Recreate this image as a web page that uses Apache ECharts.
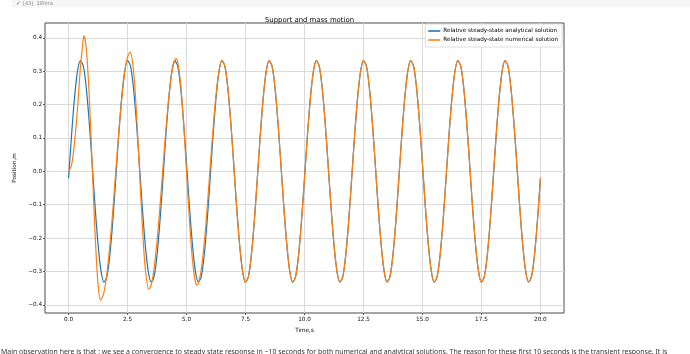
<!DOCTYPE html>
<html><head><meta charset="utf-8">
<script src="https://cdn.jsdelivr.net/npm/echarts@6/dist/echarts.min.js"></script>
<style>html,body{margin:0;padding:0;background:#fff;}#c{width:690px;height:354px;}</style>
</head><body><div id="c"></div>
<script>
const chartTitle = 'Support and mass motion';
const seriesNames = ['Relative steady-state analytical solution', 'Relative steady-state numerical solution'];
const xAxisName = 'Time,s';
const yAxisName = 'Position,m';
const xTicks = [0, 2.5, 5, 7.5, 10, 12.5, 15, 17.5, 20];
const yTicks = [-0.4, -0.3, -0.2, -0.1, 0, 0.1, 0.2, 0.3, 0.4];
const timeStep = 0.125; // sampling step of the time grid (s)

// analytical steady-state response, t = 0 ... 20 s every 0.125 s
const analytical = [
  -0.021, 0.108, 0.220, 0.299, 0.332, 0.315, 0.250, 0.147, 0.021, -0.108, -0.220, -0.299, -0.332, -0.315, -0.250, -0.147,
  -0.021, 0.108, 0.220, 0.299, 0.332, 0.315, 0.250, 0.147, 0.021, -0.108, -0.220, -0.299, -0.332, -0.315, -0.250, -0.147,
  -0.021, 0.108, 0.220, 0.299, 0.332, 0.315, 0.250, 0.147, 0.021, -0.108, -0.220, -0.299, -0.332, -0.315, -0.250, -0.147,
  -0.021, 0.108, 0.220, 0.299, 0.332, 0.315, 0.250, 0.147, 0.021, -0.108, -0.220, -0.299, -0.332, -0.315, -0.250, -0.147,
  -0.021, 0.108, 0.220, 0.299, 0.332, 0.315, 0.250, 0.147, 0.021, -0.108, -0.220, -0.299, -0.332, -0.315, -0.250, -0.147,
  -0.021, 0.108, 0.220, 0.299, 0.332, 0.315, 0.250, 0.147, 0.021, -0.108, -0.220, -0.299, -0.332, -0.315, -0.250, -0.147,
  -0.021, 0.108, 0.220, 0.299, 0.332, 0.315, 0.250, 0.147, 0.021, -0.108, -0.220, -0.299, -0.332, -0.315, -0.250, -0.147,
  -0.021, 0.108, 0.220, 0.299, 0.332, 0.315, 0.250, 0.147, 0.021, -0.108, -0.220, -0.299, -0.332, -0.315, -0.250, -0.147,
  -0.021, 0.108, 0.220, 0.299, 0.332, 0.315, 0.250, 0.147, 0.021, -0.108, -0.220, -0.299, -0.332, -0.315, -0.250, -0.147,
  -0.021, 0.108, 0.220, 0.299, 0.332, 0.315, 0.250, 0.147, 0.021, -0.108, -0.220, -0.299, -0.332, -0.315, -0.250, -0.147,
  -0.021
];

// numerical solution: transient part (irregular time points)
const numTransientTime = [
  0, 0.125, 0.25, 0.375, 0.5, 0.625, 0.65, 0.75, 0.875, 1.0, 1.125, 1.25, 1.36,
  1.5, 1.625, 1.75, 1.875, 2.0, 2.125, 2.25, 2.375, 2.5, 2.61,
  2.75, 2.875, 3.0, 3.125, 3.25, 3.4,
  3.5, 3.625, 3.75, 3.875, 4.0, 4.125, 4.25, 4.375, 4.5, 4.56,
  4.625, 4.75, 4.875, 5.0, 5.125, 5.25, 5.375, 5.44,
  5.5, 5.625, 5.75, 5.875, 6.0, 6.125, 6.25, 6.375, 6.5
];
const numTransientValue = [
  0.000, 0.018, 0.085, 0.185, 0.310, 0.398, 0.406, 0.368, 0.226, 0.019, -0.190, -0.340, -0.386,
  -0.363, -0.306, -0.221, -0.116, 0.000, 0.114, 0.215, 0.294, 0.343, 0.357,
  0.303, 0.177, 0.009, -0.161, -0.291, -0.353,
  -0.341, -0.291, -0.209, -0.104, 0.011, 0.125, 0.223, 0.296, 0.333, 0.338,
  0.329, 0.263, 0.145, -0.002, -0.148, -0.266, -0.332, -0.341,
  -0.336, -0.294, -0.215, -0.109, 0.011, 0.128, 0.230, 0.301, 0.333
];
// numerical solution after convergence, t = 6.625 ... 20 s every 0.125 s
const numSteadyStart = 6.625;
const numSteadyValue = [
  0.315, 0.250, 0.147, 0.021, -0.108, -0.220, -0.299, -0.332, -0.315, -0.250, -0.147,
  -0.021, 0.108, 0.220, 0.299, 0.332, 0.315, 0.250, 0.147, 0.021, -0.108, -0.220, -0.299, -0.332, -0.315, -0.250, -0.147,
  -0.021, 0.108, 0.220, 0.299, 0.332, 0.315, 0.250, 0.147, 0.021, -0.108, -0.220, -0.299, -0.332, -0.315, -0.250, -0.147,
  -0.021, 0.108, 0.220, 0.299, 0.332, 0.315, 0.250, 0.147, 0.021, -0.108, -0.220, -0.299, -0.332, -0.315, -0.250, -0.147,
  -0.021, 0.108, 0.220, 0.299, 0.332, 0.315, 0.250, 0.147, 0.021, -0.108, -0.220, -0.299, -0.332, -0.315, -0.250, -0.147,
  -0.021, 0.108, 0.220, 0.299, 0.332, 0.315, 0.250, 0.147, 0.021, -0.108, -0.220, -0.299, -0.332, -0.315, -0.250, -0.147,
  -0.021, 0.108, 0.220, 0.299, 0.332, 0.315, 0.250, 0.147, 0.021, -0.108, -0.220, -0.299, -0.332, -0.315, -0.250, -0.147,
  -0.021
];

const headerText = '[43]  190ms';
const footerText = 'Main observation here is that : we see a convergence to steady state response in ~10 seconds for both numerical and analytical solutions. The reason for these first 10 seconds is the transient response. It is';

// build series data
const analyticalData = analytical.map((v, i) => [+(i * timeStep).toFixed(3), v]);
const numericalData = numTransientTime.map((t, i) => [t, numTransientValue[i]])
  .concat(numSteadyValue.map((v, i) => [+(numSteadyStart + i * timeStep).toFixed(3), v]));

const FONT = 'DejaVu Sans';
const fmtY = v => (v < 0 ? '\u2212' : '') + Math.abs(v).toFixed(1);

const chart = echarts.init(document.getElementById('c'), null, {renderer: 'canvas'});
chart.setOption({
  animation: false,
  backgroundColor: '#ffffff',
  textStyle: {fontFamily: FONT},
  title: {
    text: chartTitle, left: 304.5, top: 12, textAlign: 'center',
    textStyle: {fontFamily: FONT, fontSize: 6.9, fontWeight: 'normal', color: '#000'}
  },
  grid: {left: 45, right: 126, top: 23, bottom: 41, show: true, borderColor: '#4a4a4a', borderWidth: 1, backgroundColor: 'transparent'},
  legend: {
    data: seriesNames, orient: 'vertical', right: 128, top: 24,
    padding: [3, 4, 3, 3], itemGap: 1, itemWidth: 12, itemHeight: 1.6, icon: 'rect',
    backgroundColor: '#fff', borderColor: '#d5d5d5', borderWidth: 0.8, borderRadius: 2,
    textStyle: {fontFamily: FONT, fontSize: 5.7, color: '#000', lineHeight: 8, padding: [0, 0, 0, -2]}
  },
  xAxis: {
    type: 'value', min: -1, max: 21,
    name: xAxisName, nameLocation: 'middle', nameGap: 13,
    nameTextStyle: {fontFamily: FONT, fontSize: 5.7, color: '#000'},
    axisLine: {show: false, onZero: false},
    axisTick: {show: true, length: 2, customValues: xTicks, lineStyle: {color: '#333', width: 0.8}},
    axisLabel: {customValues: xTicks, margin: 4, fontFamily: FONT, fontSize: 5.7, color: '#111', formatter: v => v.toFixed(1)},
    splitLine: {show: true, lineStyle: {color: '#dadada', width: 1}}
  },
  yAxis: {
    type: 'value', min: -0.4245, max: 0.4445,
    name: yAxisName, nameLocation: 'middle', nameGap: 20, nameRotate: 90,
    nameTextStyle: {fontFamily: FONT, fontSize: 5.7, color: '#000'},
    axisLine: {show: false, onZero: false},
    axisTick: {show: true, length: 2, customValues: yTicks, lineStyle: {color: '#333', width: 0.8}},
    axisLabel: {customValues: yTicks, margin: 3, fontFamily: FONT, fontSize: 5.7, color: '#111', formatter: fmtY},
    splitLine: {show: true, lineStyle: {color: '#dadada', width: 1}}
  },
  series: [
    {name: seriesNames[0], type: 'line', data: analyticalData, showSymbol: false, smooth: 0.3,
     color: '#1f77b4', lineStyle: {width: 1.2, color: '#1f77b4'}, z: 2},
    {name: seriesNames[1], type: 'line', data: numericalData, showSymbol: false, smooth: 0.3,
     color: '#ff7f0e', lineStyle: {width: 1.2, color: '#ff7f0e'}, z: 3}
  ],
  graphic: [
    {type: 'rect', shape: {x: 12, y: 0, width: 678, height: 7}, style: {fill: '#f5f5f5'}, silent: true},
    {type: 'text', x: 16, y: 0.5, style: {text: '\u2713', fill: '#3c9a4a', fontSize: 6, fontFamily: FONT}},
    {type: 'text', x: 23, y: 1, style: {text: headerText, fill: '#8a8a8a', fontSize: 5, fontFamily: FONT}},
    {type: 'text', x: 1, y: 348.5, style: {text: footerText, fill: '#333', fontSize: 6.95, fontFamily: 'Noto Sans'}}
  ]
});
</script></body></html>
